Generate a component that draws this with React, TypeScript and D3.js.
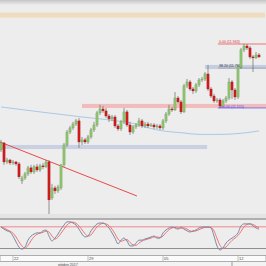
import * as d3 from 'd3';

// 4H candles
const OPEN = [11.210, 11.259, 11.124, 11.138, 11.117, 11.124, 11.110, 10.989, 11.010, 11.039, 11.082, 11.053, 11.089, 11.067, 11.096, 11.089, 11.124, 10.868, 10.939, 10.918, 10.939, 11.103, 11.245, 11.337, 11.366, 11.394, 11.416, 11.266, 11.281, 11.266, 11.302, 11.352, 11.387, 11.473, 11.501, 11.487, 11.451, 11.430, 11.444, 11.380, 11.359, 11.409, 11.480, 11.387, 11.337, 11.373, 11.387, 11.416, 11.380, 11.394, 11.380, 11.387, 11.373, 11.380, 11.366, 11.416, 11.465, 11.501, 11.494, 11.579, 11.551, 11.480, 11.665, 11.693, 11.643, 11.629, 11.672, 11.707, 11.714, 11.750, 11.643, 11.593, 11.558, 11.565, 11.522, 11.558, 11.579, 11.693, 11.636, 11.586, 11.800, 11.921, 11.949, 11.935, 11.871, 11.864, 11.885];
const HIGH = [11.281, 11.266, 11.153, 11.146, 11.138, 11.131, 11.124, 11.025, 11.053, 11.096, 11.103, 11.103, 11.110, 11.110, 11.117, 11.138, 11.138, 10.968, 10.954, 10.961, 11.110, 11.259, 11.352, 11.380, 11.409, 11.430, 11.437, 11.302, 11.295, 11.316, 11.366, 11.409, 11.487, 11.530, 11.522, 11.508, 11.465, 11.458, 11.458, 11.394, 11.423, 11.508, 11.494, 11.409, 11.387, 11.401, 11.437, 11.430, 11.409, 11.409, 11.401, 11.401, 11.394, 11.394, 11.430, 11.480, 11.530, 11.515, 11.622, 11.593, 11.565, 11.679, 11.714, 11.707, 11.657, 11.686, 11.721, 11.729, 11.764, 11.814, 11.657, 11.608, 11.579, 11.579, 11.572, 11.593, 11.721, 11.707, 11.650, 11.814, 11.935, 11.963, 11.963, 11.949, 11.885, 11.906, 11.899];
const LOW = [11.195, 11.103, 11.110, 11.103, 11.103, 11.096, 11.003, 10.968, 10.996, 11.025, 11.039, 11.039, 11.053, 11.053, 11.074, 11.082, 10.747, 10.854, 10.897, 10.904, 10.925, 11.089, 11.231, 11.323, 11.352, 11.380, 11.224, 11.245, 11.252, 11.252, 11.288, 11.337, 11.373, 11.458, 11.473, 11.437, 11.409, 11.416, 11.366, 11.345, 11.345, 11.394, 11.373, 11.316, 11.323, 11.359, 11.373, 11.366, 11.366, 11.366, 11.373, 11.359, 11.359, 11.352, 11.352, 11.401, 11.451, 11.480, 11.487, 11.537, 11.465, 11.473, 11.650, 11.629, 11.608, 11.615, 11.657, 11.693, 11.700, 11.629, 11.579, 11.544, 11.544, 11.508, 11.515, 11.544, 11.565, 11.572, 11.565, 11.572, 11.785, 11.906, 11.921, 11.857, 11.764, 11.857, 11.864];
const CLOSE = [11.259, 11.124, 11.138, 11.117, 11.124, 11.110, 11.018, 11.010, 11.039, 11.082, 11.053, 11.089, 11.067, 11.096, 11.089, 11.124, 10.854, 10.939, 10.918, 10.946, 11.103, 11.245, 11.337, 11.366, 11.394, 11.416, 11.266, 11.281, 11.266, 11.302, 11.352, 11.387, 11.473, 11.501, 11.487, 11.451, 11.430, 11.444, 11.380, 11.359, 11.409, 11.480, 11.387, 11.337, 11.373, 11.387, 11.416, 11.380, 11.394, 11.380, 11.387, 11.373, 11.380, 11.366, 11.416, 11.465, 11.501, 11.494, 11.579, 11.551, 11.480, 11.665, 11.693, 11.643, 11.629, 11.672, 11.707, 11.714, 11.750, 11.643, 11.593, 11.558, 11.565, 11.522, 11.558, 11.579, 11.693, 11.636, 11.586, 11.800, 11.921, 11.949, 11.935, 11.871, 11.864, 11.885, 11.871];

// moving average, sampled at candle indices
const MA_IDX = [0, 13, 27, 36, 41, 45, 48, 52, 61, 66, 73, 81, 86];
const MA_VAL = [11.515, 11.480, 11.444, 11.423, 11.409, 11.394, 11.373, 11.352, 11.330, 11.320, 11.320, 11.330, 11.345];

// stochastic %K / %D
const STOCH_K = [79, 72, 66, 62, 48, 28, 10, 3, 10, 34, 48, 55, 59, 59, 66, 69, 48, 31, 41, 55, 72, 86, 97, 97, 93, 86, 72, 55, 45, 48, 66, 79, 90, 93, 93, 86, 76, 59, 41, 21, 34, 41, 31, 14, 14, 24, 34, 34, 38, 41, 45, 48, 41, 41, 59, 69, 76, 79, 76, 72, 79, 72, 66, 62, 66, 69, 76, 79, 79, 79, 76, 48, 14, 0, 7, 24, 34, 41, 48, 59, 83, 90, 90, 90, 83, 76, 72];
const STOCH_D = [80, 76, 70, 65, 58, 45, 28, 14, 6, 16, 32, 46, 54, 58, 61, 65, 62, 48, 38, 44, 58, 72, 86, 94, 96, 92, 83, 70, 56, 48, 52, 66, 80, 88, 92, 90, 84, 72, 56, 38, 30, 34, 36, 26, 18, 16, 24, 31, 35, 38, 41, 45, 45, 43, 48, 60, 70, 76, 78, 76, 75, 76, 72, 66, 64, 66, 70, 75, 78, 79, 78, 66, 40, 16, 6, 10, 22, 33, 41, 50, 64, 80, 88, 90, 88, 82, 76];
const STOCH_LEVEL = 80;

// trendline (index, price)
const TREND_IDX = [-0.33, 45.3];
const TREND_VAL = [11.266, 10.882];

// horizontal zones: orange, pink, blue left, blue right
const ZONE_FROM = [-0.4, 27, -0.4, 68];
const ZONE_TO = [88, 88.5, 68.7, 88.5];
const ZONE_LOW = [12.151, 11.508, 11.216, 11.785];
const ZONE_HIGH = [12.186, 11.537, 11.245, 11.814];

// fibonacci retracement
const FIB_PCT = ['0.00', '38.20', '100.00'];
const FIB_PRICE = [11.963, 11.792, 11.515];
const FIB_FROM = 72.3;

const DATE_IDX = [4, 29, 54, 79];
const DATE_LABELS = ['22', '29', '05', '12'];
const MONTH_LABEL = 'ottobre 2017';
const MONTH_IDX = 19;
const MONTH_SEP_IDX = 77;

const FONT = '"Liberation Sans", Arial, sans-serif';
const ZONE_COLORS = ['#efdcbf', '#f2bcbc', '#c9d0e1', '#c5cde0'];
const FIB_COLORS = ['#e84848', '#555a66', '#5050f0'];
const FIB_TEXT = ['#e03a3a', '#333333', '#4a4af0'];

export default function App() {
    const W = 266, H = 266;
    const n = CLOSE.length;
    const x = d3.scaleLinear().domain([0, n - 1]).range([1, 259]);
    const y = d3.scaleLinear().domain([10.768, 12.276]).range([212, 0]);
    const ys = d3.scaleLinear().domain([0, 100]).range([250, 221]);

    const maLine = d3.line<number>()
        .x((d, i) => x(MA_IDX[i]))
        .y(d => y(d))
        .curve(d3.curveMonotoneX);

    const stochLine = d3.line<number>()
        .x((d, i) => x(i))
        .y(d => ys(d))
        .curve(d3.curveMonotoneX);

    return (
        <svg width={W} height={H} style={{ position: 'absolute', left: 0, top: 0, background: '#ededed' }}
            fontFamily={FONT}>
            <defs>
                <linearGradient id="topShade" x1="0" y1="0" x2="0" y2="1">
                    <stop offset="0" stopColor="#c4c4c4" />
                    <stop offset="1" stopColor="#ededed" />
                </linearGradient>
                <clipPath id="mainClip"><rect x={0} y={0} width={W} height={214} /></clipPath>
            </defs>
            <rect x={0} y={0} width={W} height={5} fill="url(#topShade)" />

            <g clipPath="url(#mainClip)">
                {/* zones */}
                {ZONE_LOW.map((lo, i) => (
                    <rect key={'z' + i}
                        x={x(ZONE_FROM[i])} width={x(ZONE_TO[i]) - x(ZONE_FROM[i])}
                        y={y(ZONE_HIGH[i])} height={y(lo) - y(ZONE_HIGH[i])}
                        fill={ZONE_COLORS[i]} />
                ))}

                {/* moving average */}
                <path d={maLine(MA_VAL) || ''} fill="none" stroke="#a9c9e6" strokeWidth={1} />

                {/* trendline */}
                <line x1={x(TREND_IDX[0])} y1={y(TREND_VAL[0])} x2={x(TREND_IDX[1])} y2={y(TREND_VAL[1])}
                    stroke="#e84a4a" strokeWidth={1} />

                {/* fib levels */}
                {FIB_PRICE.map((p, i) => (
                    <g key={'f' + i}>
                        <line x1={x(FIB_FROM)} x2={W} y1={y(p) + (i === 2 ? 1 : 0)} y2={y(p) + (i === 2 ? 1 : 0)}
                            stroke={FIB_COLORS[i]} strokeWidth={i === 1 ? 0.5 : 0.8} opacity={i === 1 ? 0.6 : 0.9} />
                        <text x={x(FIB_FROM) + 1} y={y(p) - 0.8 + (i === 2 ? 1.5 : 0)} fontSize={3.6}
                            fill={FIB_TEXT[i]}>{`${FIB_PCT[i]} (${p.toFixed(3)})`}</text>
                    </g>
                ))}

                {/* candles */}
                {CLOSE.map((c, i) => {
                    const o = OPEN[i];
                    const up = c >= o;
                    const top = y(Math.max(o, c));
                    const bot = y(Math.min(o, c));
                    return (
                        <g key={'c' + i}>
                            <line x1={x(i)} x2={x(i)} y1={y(HIGH[i])} y2={y(LOW[i])} stroke="#6a6a6a" strokeWidth={0.7} />
                            <rect x={x(i) - 1.1} width={2.2} y={top} height={Math.max(0.8, bot - top)}
                                fill={up ? '#8cc46c' : '#d01c1c'}
                                stroke={up ? '#6c9a55' : '#a01010'} strokeWidth={0.3} />
                        </g>
                    );
                })}
            </g>

            {/* separator to indicator */}
            <rect x={0} y={214} width={W} height={4} fill="#e4e4e4" />
            <line x1={0} x2={W} y1={219} y2={219} stroke="#9a9a9a" strokeWidth={1.4} />
            <line x1={0} x2={W} y1={248.5} y2={248.5} stroke="#8e8e8e" strokeWidth={1.2} />

            {/* stochastic */}
            <line x1={0} x2={W} y1={ys(STOCH_LEVEL)} y2={ys(STOCH_LEVEL)} stroke="#f07070" strokeWidth={0.8} />
            <path d={stochLine(STOCH_D) || ''} fill="none" stroke="#f07272" strokeWidth={1} />
            <path d={stochLine(STOCH_K) || ''} fill="none" stroke="#7a87a6" strokeWidth={1} />

            {/* time axis */}
            <rect x={0} y={255.5} width={W} height={6} fill="#fbfbfb" stroke="#9c9c9c" strokeWidth={0.8} />
            {DATE_IDX.map((d, i) => (
                <g key={'d' + i}>
                    <line x1={x(d)} x2={x(d)} y1={256} y2={261} stroke="#9a9a9a" strokeWidth={0.6} />
                    <text x={x(d) + 1} y={260.4} fontSize={4} fill="#444">{DATE_LABELS[i]}</text>
                </g>
            ))}
            <rect x={0} y={262} width={W} height={4} fill="#f3f3f3" />
            <text x={x(MONTH_IDX)} y={265.6} fontSize={3.5} fill="#444">{MONTH_LABEL}</text>
            <line x1={x(MONTH_SEP_IDX)} x2={x(MONTH_SEP_IDX)} y1={262} y2={266} stroke="#a8a8a8" strokeWidth={1.2} />
        </svg>
    );
}
